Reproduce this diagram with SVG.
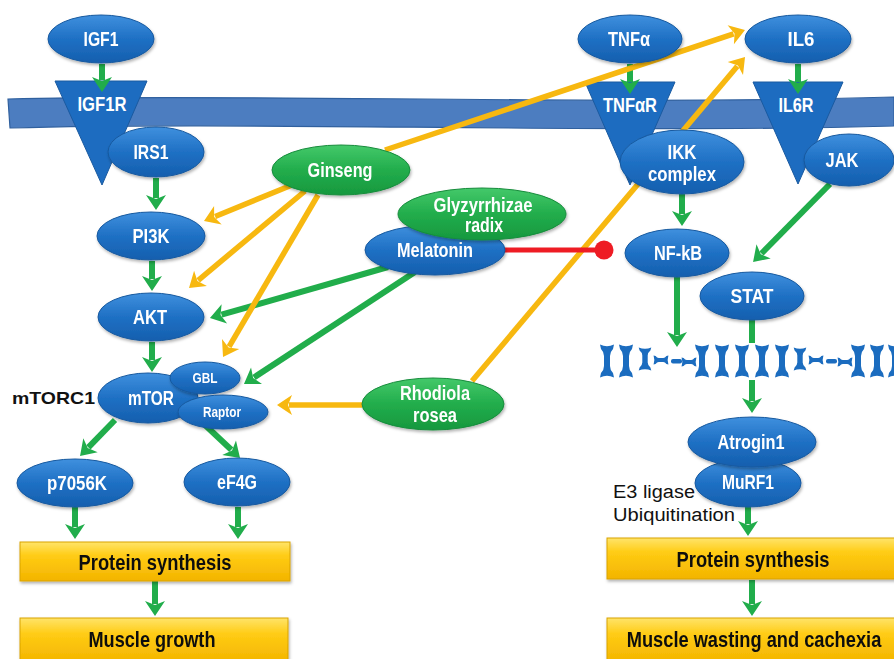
<svg xmlns="http://www.w3.org/2000/svg" width="894" height="659" viewBox="0 0 894 659">
<defs>
<style>
.t{font-family:"Liberation Sans",Arial,sans-serif;font-weight:bold;fill:#fff;text-anchor:middle;font-size:20px}
.ts{font-size:14px}
.big{font-family:"Liberation Sans",Arial,sans-serif;font-weight:bold;fill:#111;text-anchor:middle;font-size:22px}
.bn{fill:url(#gb);stroke:#17599f;stroke-width:1}
.gn{fill:url(#gg);stroke:#178c3c;stroke-width:1}
.tri{fill:#1d6cc0;stroke:#1a5aa0;stroke-width:1}
.box{fill:url(#gy);stroke:#d9a300;stroke-width:1}
.cg{stroke:#21ad4b;stroke-width:6;fill:none;marker-end:url(#ag)}
.cgn{stroke:#21ad4b;stroke-width:6;fill:none}
.co{stroke:#f7b810;stroke-width:5.5;fill:none;marker-end:url(#ao)}
.sar{fill:#1b6cbf}
.lab{font-family:"Liberation Sans",Arial,sans-serif;fill:#111}
</style>
<linearGradient id="gb" x1="0" y1="0" x2="0" y2="1"><stop offset="0" stop-color="#3f90de"/><stop offset="0.5" stop-color="#1f70c4"/><stop offset="1" stop-color="#155fae"/></linearGradient>
<linearGradient id="gg" x1="0" y1="0" x2="0" y2="1"><stop offset="0" stop-color="#44c96a"/><stop offset="0.5" stop-color="#22ad4c"/><stop offset="1" stop-color="#17983e"/></linearGradient>
<linearGradient id="gy" x1="0" y1="0" x2="0" y2="1"><stop offset="0" stop-color="#ffe46a"/><stop offset="0.35" stop-color="#ffcc14"/><stop offset="1" stop-color="#f3b400"/></linearGradient>
<filter id="sh" x="-10%" y="-10%" width="125%" height="135%"><feDropShadow dx="1" dy="2" stdDeviation="1.5" flood-color="#000" flood-opacity="0.3"/></filter>
<marker id="ag" viewBox="-4 -11 17 22" markerWidth="17" markerHeight="22" refX="0" refY="0" orient="auto" markerUnits="userSpaceOnUse"><path d="M12,0 L-3,-10 L1,0 L-3,10 Z" fill="#21ad4b"/></marker>
<marker id="ao" viewBox="-4 -11 17 22" markerWidth="17" markerHeight="22" refX="0" refY="0" orient="auto" markerUnits="userSpaceOnUse"><path d="M12,0 L-3,-10 L1,0 L-3,10 Z" fill="#f7b810"/></marker>
<path id="bone" d="M-7,-16.5 Q0,-13 7,-16.5 L6,-12 Q3,-9 3,-5 L3,5 Q3,9 6,12 L7,16.5 Q0,13 -7,16.5 L-6,12 Q-3,9 -3,5 L-3,-5 Q-3,-9 -6,-12 Z"/>
</defs>
<rect width="894" height="659" fill="#fff"/>

<!-- membrane -->
<path d="M8,99 C250,93 600,106 894,97 L894,126 C600,134 250,121 10,128 Z" fill="#4c7dc0" stroke="#30609e" stroke-width="1.2"/>

<!-- sarcomere -->
<g id="sarcomere" class="sar" transform="translate(0,361)">
<use href="#bone" x="607"/><use href="#bone" x="626"/>
<use href="#bone" transform="translate(645,-2) scale(0.9,0.7)"/>
<use href="#bone" transform="translate(661,-1) rotate(90) scale(0.65,0.45)"/>
<rect x="671" y="-2" width="11" height="4.5" rx="2"/>
<use href="#bone" transform="translate(689,1) rotate(90) scale(0.65,0.45)"/>
<use href="#bone" x="702"/><use href="#bone" x="722"/><use href="#bone" x="742"/><use href="#bone" x="762"/><use href="#bone" x="782"/>
<use href="#bone" transform="translate(800,-2) scale(0.9,0.7)"/>
<use href="#bone" transform="translate(816,-1) rotate(90) scale(0.65,0.45)"/>
<rect x="826" y="-2" width="11" height="4.5" rx="2"/>
<use href="#bone" transform="translate(845,1) rotate(90) scale(0.65,0.45)"/>
<use href="#bone" x="858"/><use href="#bone" x="877"/><use href="#bone" x="895"/>
</g>

<!-- receptors -->
<g id="IGF1R"><path class="tri" d="M55,81 L147,81 L102,185 Z"/><text class="t" x="102" y="111" textLength="49" lengthAdjust="spacingAndGlyphs">IGF1R</text></g>
<g id="TNFaR"><path class="tri" d="M585,82 L675,82 L630,185 Z"/><text class="t" x="630" y="112" textLength="54" lengthAdjust="spacingAndGlyphs">TNFαR</text></g>
<g id="IL6R"><path class="tri" d="M753,82 L843,82 L798,184 Z"/><text class="t" x="796" y="112" textLength="35" lengthAdjust="spacingAndGlyphs">IL6R</text></g>

<!-- connectors -->
<g id="connectors">
<line class="cg" x1="102" y1="64" x2="102" y2="80"/>
<line class="cg" x1="156" y1="178" x2="156" y2="198"/>
<line class="cg" x1="152" y1="261" x2="152" y2="279"/>
<line class="cg" x1="152" y1="342" x2="152" y2="360"/>
<line class="cg" x1="115" y1="420" x2="88.4" y2="447.4"/>
<line class="cg" x1="205" y1="425" x2="231.3" y2="449.8"/>
<line class="cg" x1="75" y1="507" x2="75" y2="527"/>
<line class="cg" x1="238" y1="507" x2="238" y2="527"/>
<line class="cg" x1="155" y1="581" x2="155" y2="604"/>
<line class="cg" x1="630" y1="64" x2="630" y2="82"/>
<line class="cg" x1="798" y1="64" x2="798" y2="82"/>
<line class="cg" x1="682" y1="194" x2="682" y2="214"/>
<line class="cg" x1="830" y1="184" x2="761.5" y2="253.5"/>
<line class="cg" x1="677" y1="277" x2="677" y2="335"/>
<line class="cgn" x1="752" y1="319" x2="752" y2="343"/>
<line class="cg" x1="752" y1="380" x2="752" y2="401"/>
<line class="cg" x1="748" y1="506" x2="748" y2="524"/>
<line class="cg" x1="752" y1="580" x2="752" y2="604"/>
<line class="cg" x1="388" y1="267" x2="221.5" y2="314.7"/>
<line class="cg" x1="415" y1="272" x2="254" y2="377.4"/>
<line class="co" x1="385" y1="150" x2="733.6" y2="33.8"/>
<line class="co" x1="292" y1="185" x2="215.1" y2="216.5"/>
<line class="co" x1="305" y1="191" x2="198.2" y2="280.3"/>
<line class="co" x1="318" y1="195" x2="229.1" y2="346.6"/>
<line class="co" x1="472" y1="381" x2="737.3" y2="66.2"/>
<line class="co" x1="362" y1="405" x2="289" y2="405"/>
<line x1="500" y1="250" x2="600" y2="250" stroke="#ee1c24" stroke-width="5"/>
<circle cx="604" cy="250" r="9.5" fill="#ee1c24"/>
</g>

<!-- left pathway nodes -->
<g id="IGF1" filter="url(#sh)"><ellipse class="bn" cx="101" cy="39" rx="53" ry="24"/><text class="t" x="101" y="46" textLength="35" lengthAdjust="spacingAndGlyphs">IGF1</text></g>
<g id="IRS1" filter="url(#sh)"><ellipse class="bn" cx="156" cy="152" rx="48" ry="25"/><text class="t" x="151" y="159" textLength="35" lengthAdjust="spacingAndGlyphs">IRS1</text></g>
<g id="PI3K" filter="url(#sh)"><ellipse class="bn" cx="151" cy="236" rx="54" ry="24"/><text class="t" x="151" y="243" textLength="37" lengthAdjust="spacingAndGlyphs">PI3K</text></g>
<g id="AKT" filter="url(#sh)"><ellipse class="bn" cx="151" cy="317" rx="53" ry="24"/><text class="t" x="150" y="324" textLength="34" lengthAdjust="spacingAndGlyphs">AKT</text></g>
<g id="mTOR" filter="url(#sh)"><ellipse class="bn" cx="148" cy="398" rx="50" ry="25"/><text class="t" x="151" y="405" textLength="46" lengthAdjust="spacingAndGlyphs">mTOR</text></g>
<g id="GBL" filter="url(#sh)"><ellipse class="bn" cx="205" cy="378" rx="35" ry="16"/><text class="t ts" x="205" y="383" textLength="25" lengthAdjust="spacingAndGlyphs">GBL</text></g>
<g id="Raptor" filter="url(#sh)"><ellipse class="bn" cx="223" cy="412" rx="45" ry="17"/><text class="t ts" x="222" y="417" textLength="38" lengthAdjust="spacingAndGlyphs">Raptor</text></g>
<text id="mTORC1-label" class="lab" x="12" y="404" font-size="17" font-weight="bold" textLength="83" lengthAdjust="spacingAndGlyphs">mTORC1</text>
<g id="p7056K" filter="url(#sh)"><ellipse class="bn" cx="75" cy="483" rx="58" ry="24"/><text class="t" x="77" y="490" textLength="60" lengthAdjust="spacingAndGlyphs">p7056K</text></g>
<g id="eF4G" filter="url(#sh)"><ellipse class="bn" cx="237" cy="482" rx="53" ry="24"/><text class="t" x="237" y="489" textLength="40" lengthAdjust="spacingAndGlyphs">eF4G</text></g>
<g id="ProteinSynthesisL" filter="url(#sh)"><rect class="box" x="20" y="542" width="270" height="39"/><text class="big" x="155" y="570" textLength="153" lengthAdjust="spacingAndGlyphs">Protein synthesis</text></g>
<g id="MuscleGrowth" filter="url(#sh)"><rect class="box" x="20" y="618" width="268" height="45"/><text class="big" x="152" y="647" textLength="127" lengthAdjust="spacingAndGlyphs">Muscle growth</text></g>

<!-- herbal / drug nodes -->
<g id="Ginseng" filter="url(#sh)"><ellipse class="gn" cx="341" cy="170" rx="69" ry="25"/><text class="t" x="340" y="177" textLength="65" lengthAdjust="spacingAndGlyphs">Ginseng</text></g>
<g id="Melatonin" filter="url(#sh)"><ellipse class="bn" cx="435" cy="250" rx="70" ry="25"/><text class="t" x="435" y="257" textLength="76" lengthAdjust="spacingAndGlyphs">Melatonin</text></g>
<g id="Glyzyrrhizae" filter="url(#sh)"><ellipse class="gn" cx="482" cy="214" rx="84" ry="26"/><text class="t" x="483" y="212" textLength="99" lengthAdjust="spacingAndGlyphs">Glyzyrrhizae</text><text class="t" x="484" y="232" textLength="38" lengthAdjust="spacingAndGlyphs">radix</text></g>
<g id="Rhodiola" filter="url(#sh)"><ellipse class="gn" cx="433" cy="404" rx="71" ry="26"/><text class="t" x="435" y="400" textLength="70" lengthAdjust="spacingAndGlyphs">Rhodiola</text><text class="t" x="435" y="422" textLength="44" lengthAdjust="spacingAndGlyphs">rosea</text></g>

<!-- right pathway nodes -->
<g id="TNFa" filter="url(#sh)"><ellipse class="bn" cx="630" cy="39" rx="52" ry="24"/><text class="t" x="629" y="46" textLength="42" lengthAdjust="spacingAndGlyphs">TNFα</text></g>
<g id="IL6" filter="url(#sh)"><ellipse class="bn" cx="798" cy="39" rx="53" ry="24"/><text class="t" x="801" y="46" textLength="27" lengthAdjust="spacingAndGlyphs">IL6</text></g>
<g id="IKK" filter="url(#sh)"><ellipse class="bn" cx="682" cy="162" rx="62" ry="32"/><text class="t" x="682" y="159" textLength="29" lengthAdjust="spacingAndGlyphs">IKK</text><text class="t" x="682" y="181" textLength="68" lengthAdjust="spacingAndGlyphs">complex</text></g>
<g id="JAK" filter="url(#sh)"><ellipse class="bn" cx="849" cy="160" rx="45" ry="26"/><text class="t" x="842" y="167" textLength="33" lengthAdjust="spacingAndGlyphs">JAK</text></g>
<g id="NFkB" filter="url(#sh)"><ellipse class="bn" cx="677" cy="253" rx="52" ry="24"/><text class="t" x="678" y="260" textLength="48" lengthAdjust="spacingAndGlyphs">NF-kB</text></g>
<g id="STAT" filter="url(#sh)"><ellipse class="bn" cx="752" cy="296" rx="52" ry="24"/><text class="t" x="752" y="303" textLength="43" lengthAdjust="spacingAndGlyphs">STAT</text></g>
<g id="MuRF1" filter="url(#sh)"><ellipse class="bn" cx="748" cy="483" rx="53" ry="24"/><text class="t" x="748" y="489" textLength="52" lengthAdjust="spacingAndGlyphs">MuRF1</text></g>
<g id="Atrogin1" filter="url(#sh)"><ellipse class="bn" cx="752" cy="442" rx="64" ry="25"/><text class="t" x="751" y="449" textLength="67" lengthAdjust="spacingAndGlyphs">Atrogin1</text></g>
<text class="lab" x="613" y="498" font-size="18" textLength="82" lengthAdjust="spacingAndGlyphs">E3 ligase</text>
<text class="lab" x="613" y="521" font-size="18" textLength="122" lengthAdjust="spacingAndGlyphs">Ubiquitination</text>
<g id="ProteinSynthesisR" filter="url(#sh)"><rect class="box" x="607" y="538" width="292" height="41"/><text class="big" x="753" y="567" textLength="153" lengthAdjust="spacingAndGlyphs">Protein synthesis</text></g>
<g id="MuscleWasting" filter="url(#sh)"><rect class="box" x="607" y="618" width="292" height="45"/><text class="big" transform="translate(754,647) scale(0.83,1)" x="0" y="0">Muscle wasting and cachexia</text></g>
</svg>
